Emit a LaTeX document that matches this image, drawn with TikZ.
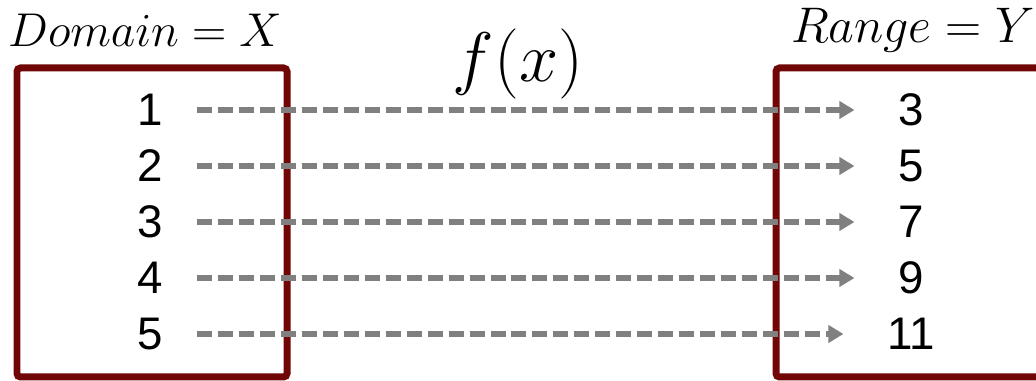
\documentclass[tikz,border=0pt]{standalone}
\usepackage{fix-cm}
\usepackage{fontspec}
\setmainfont{Liberation Sans}
\usetikzlibrary{arrows.meta}
\definecolor{setred}{RGB}{112,6,6}
\definecolor{mapgray}{RGB}{128,128,128}

\begin{document}
\begin{tikzpicture}[x=0.02cm,y=-0.02cm,
  setbox/.style={draw=setred,line width=0.14cm,rounded corners=2pt,inner sep=0pt},
  num/.style={font=\fontsize{26}{31}\selectfont,inner sep=2pt},
  lbl/.style={font=\fontsize{27}{32}\selectfont,inner sep=0pt},
  map/.style={draw=mapgray,line width=0.11cm,dash pattern=on 0.3cm off 0.12cm,
    -{Triangle[length=3mm,width=3.4mm]},shorten <=0.6cm,shorten >=0.8cm}]
  \useasboundingbox (0,0) rectangle (1036,381);
  \node[setbox,minimum width=270*0.02cm,minimum height=309*0.02cm] (dom) at (152,222.5) {};
  \node[setbox,minimum width=264*0.02cm,minimum height=309*0.02cm] (ran) at (908,222.5) {};
  \node[lbl] (domlbl) at (145,30) {$Domain = X$};
  \node[lbl,font=\fontsize{28.5}{34}\selectfont] (ranlbl) at (913,30) {$Range = Y$};
  \node[lbl,font=\fontsize{40}{48}\selectfont] (fx) at (518,64) {$f(x)$};
  \foreach \a/\b [count=\i] in {1/3,2/5,3/7,4/9,5/11}{
    \node[num] (l\i) at (150,110+56*\i-56) {\a};
    \node[num] (r\i) at (911,110+56*\i-56) {\b};
    \draw[map] (l\i.east) -- (r\i.west);
  }
\end{tikzpicture}
\end{document}
